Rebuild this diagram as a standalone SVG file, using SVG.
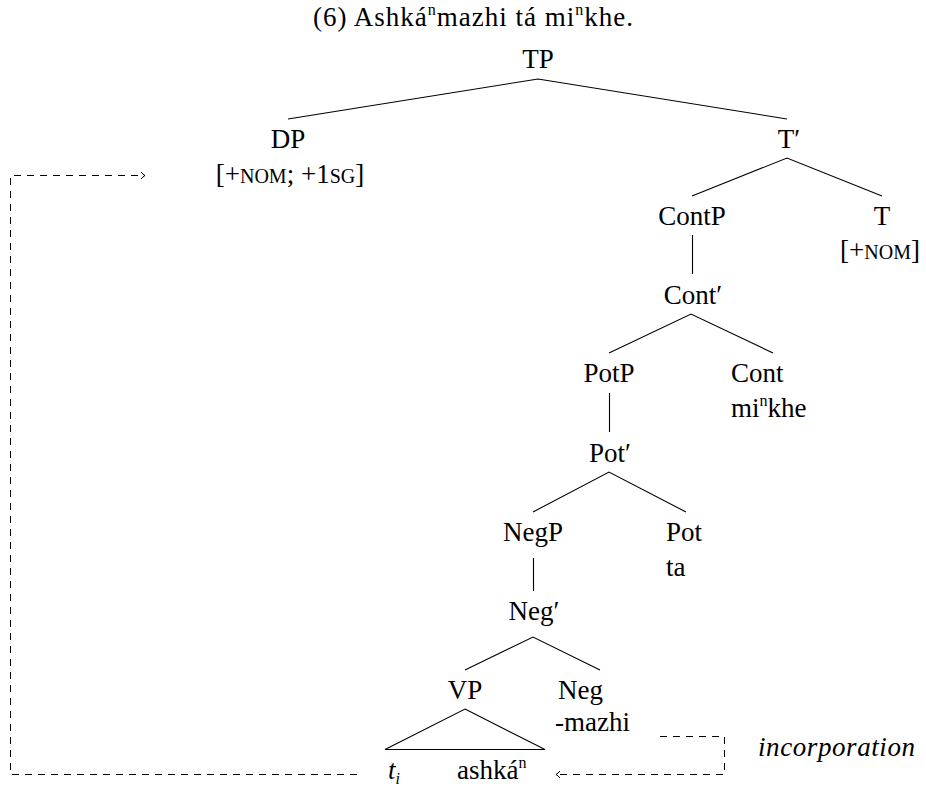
<svg xmlns="http://www.w3.org/2000/svg" width="926" height="787" viewBox="0 0 926 787" font-family="'Liberation Serif', 'DejaVu Serif', serif">
<style>
text{font-family:'Liberation Serif','DejaVu Serif',serif;font-size:27px;fill:#000}
.m{text-anchor:middle}
.sc{font-size:20px}
.sup{font-size:16px}
.it{font-style:italic}
.e{stroke:#000;stroke-width:1.1;fill:none}
.d{stroke:#000;stroke-width:1;fill:none;stroke-dasharray:7 6}
</style>
<defs>
<marker id="ah" markerWidth="10" markerHeight="10" refX="7" refY="5" orient="auto" markerUnits="userSpaceOnUse">
<path d="M3,1.5 Q5,4 7,5 Q5,6 3,8.5" fill="none" stroke="#000" stroke-width="1"/>
</marker>
</defs>
<g id="title"><text class="m" x="473" y="26" textLength="320" lengthAdjust="spacing">(6) Ashká<tspan class="sup" dy="-11">n</tspan><tspan dy="11">mazhi tá mi</tspan><tspan class="sup" dy="-11">n</tspan><tspan dy="11">khe.</tspan></text></g>
<g id="connectors">
<path class="e" d="M288,119 L538,79 L787,119"/>
<path class="e" d="M692,196 L787,158 L882,196"/>
<path class="e" d="M692.5,235 L692.5,274"/>
<path class="e" d="M609,353 L691,314 L773,353"/>
<path class="e" d="M609.5,393 L609.5,432"/>
<path class="e" d="M533,512 L609,472 L686,512"/>
<path class="e" d="M533.5,558 L533.5,591"/>
<path class="e" d="M465,670 L533,637 L600,670"/>
<path class="e" d="M465,709 L545,749.5 L385,749.5 Z"/>
<path class="d" d="M660,736.5 L724.5,736.5 L724.5,774.5 L556,774.5" marker-end="url(#ah)"/>
<path class="d" d="M357,774.5 L10.5,774.5 L10.5,175.5 L145,175.5" marker-end="url(#ah)"/>
</g>
<g id="TP"><text class="m" x="538" y="68">TP</text></g>
<g id="DP"><text class="m" x="288" y="148">DP</text><text class="m" x="290" y="183">[+<tspan class="sc">NOM</tspan>; +1<tspan class="sc">SG</tspan>]</text></g>
<g id="Tbar"><text class="m" x="789" y="148">T′</text></g>
<g id="ContP"><text class="m" x="692" y="225">ContP</text></g>
<g id="T"><text class="m" x="882" y="225">T</text><text class="m" x="880" y="259">[+<tspan class="sc">NOM</tspan>]</text></g>
<g id="Contbar"><text class="m" x="693" y="304">Cont′</text></g>
<g id="PotP"><text class="m" x="609" y="382">PotP</text></g>
<g id="Cont"><text x="731" y="382">Cont</text><text x="731" y="417">mi<tspan class="sup" dy="-11">n</tspan><tspan dy="11">khe</tspan></text></g>
<g id="Potbar"><text class="m" x="610" y="462">Pot′</text></g>
<g id="NegP"><text class="m" x="533" y="541">NegP</text></g>
<g id="Pot"><text x="666" y="541">Pot</text><text x="666" y="576">ta</text></g>
<g id="Negbar"><text class="m" x="534" y="620">Neg′</text></g>
<g id="VP"><text class="m" x="465" y="699">VP</text></g>
<g id="Neg"><text x="558" y="699">Neg</text><text x="555" y="731">-mazhi</text></g>
<g id="ti"><text class="it" x="388" y="779">t<tspan class="sup" dy="5">i</tspan></text></g>
<g id="ashkan"><text x="457" y="779">ashká<tspan class="sup" dy="-11">n</tspan></text></g>
<g id="incorporation"><text class="it" x="758" y="756" textLength="157" lengthAdjust="spacing">incorporation</text></g>
</svg>
